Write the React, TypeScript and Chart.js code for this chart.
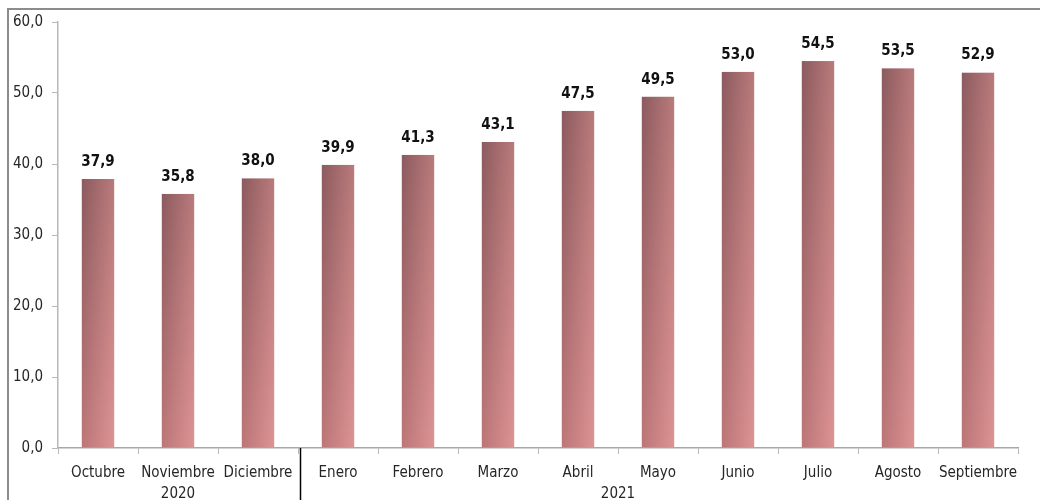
import React, { useEffect, useRef } from "react";
import { Chart, registerables } from "chart.js";

Chart.register(...registerables);

const months = [
  "Octubre", "Noviembre", "Diciembre", "Enero", "Febrero", "Marzo",
  "Abril", "Mayo", "Junio", "Julio", "Agosto", "Septiembre",
];
const values = [37.9, 35.8, 38.0, 39.9, 41.3, 43.1, 47.5, 49.5, 53.0, 54.5, 53.5, 52.9];
const yearLabels = ["2020", "2021"];
const yearLabelPos = [1, 6.5]; // category positions for the year labels
const yearSeparatorPos = [2.5];
const yTicks = { min: 0, max: 60, step: 10 };

const FONT = "'DejaVu Sans Condensed', 'Liberation Sans', sans-serif";
const fmt = (v: number) => v.toFixed(1).replace(".", ",");

const BAR_PCT = 0.41;

function barPattern(chart: any, index: number, value: number) {
  const xs = chart.scales.x;
  const ys = chart.scales.y;
  if (!xs || !ys || !chart.chartArea) return "#b87072";
  const catW = (xs.right - xs.left) / months.length;
  const w = Math.max(2, Math.round(catW * BAR_PCT));
  const cx = xs.getPixelForValue(index);
  const top = ys.getPixelForValue(value);
  const bottom = ys.getPixelForValue(0);
  const h = Math.max(2, Math.round(bottom - top));
  const left = cx - w / 2;

  const base = document.createElement("canvas");
  base.width = w;
  base.height = h;
  const b = base.getContext("2d")!;
  const gBottom = b.createLinearGradient(0, 0, w, 0);
  gBottom.addColorStop(0, "#bc7678");
  gBottom.addColorStop(1, "#de9494");
  b.fillStyle = gBottom;
  b.fillRect(0, 0, w, h);

  const topC = document.createElement("canvas");
  topC.width = w;
  topC.height = h;
  const t = topC.getContext("2d")!;
  const gTop = t.createLinearGradient(0, 0, w, 0);
  gTop.addColorStop(0, "#8a5a5e");
  gTop.addColorStop(1, "#ba7a7b");
  t.fillStyle = gTop;
  t.fillRect(0, 0, w, h);
  t.globalCompositeOperation = "destination-in";
  const mask = t.createLinearGradient(0, 0, 0, h);
  mask.addColorStop(0, "rgba(0,0,0,1)");
  mask.addColorStop(1, "rgba(0,0,0,0)");
  t.fillStyle = mask;
  t.fillRect(0, 0, w, h);

  b.drawImage(topC, 0, 0);

  const pat = chart.ctx.createPattern(base, "no-repeat")!;
  pat.setTransform(new DOMMatrix().translate(left, top));
  return pat;
}

const labelsPlugin = {
  id: "valueLabels",
  afterDatasetsDraw(chart: any) {
    const ctx = chart.ctx;
    const meta = chart.getDatasetMeta(0);
    ctx.save();
    ctx.font = `bold 15px ${FONT}`;
    ctx.fillStyle = "#111111";
    ctx.textAlign = "center";
    ctx.textBaseline = "alphabetic";
    meta.data.forEach((el: any, i: number) => {
      ctx.fillText(fmt(values[i]), el.x, el.y - 13);
    });
    ctx.restore();
  },
  afterDraw(chart: any) {
    const ctx = chart.ctx;
    const xs = chart.scales.x;
    ctx.save();
    ctx.strokeStyle = "#000000";
    ctx.lineWidth = 1.5;
    yearSeparatorPos.forEach((p) => {
      const x = Math.round(xs.getPixelForValue(p)) + 2.5;
      ctx.beginPath();
      ctx.moveTo(x, xs.top);
      ctx.lineTo(x, chart.height);
      ctx.stroke();
    });
    ctx.font = `15px ${FONT}`;
    ctx.fillStyle = "#262626";
    ctx.textAlign = "center";
    ctx.textBaseline = "top";
    yearLabels.forEach((lab, i) => {
      ctx.fillText(lab, xs.getPixelForValue(yearLabelPos[i]), xs.top + 39);
    });
    ctx.restore();
  },
};

export default function App() {
  const ref = useRef<HTMLCanvasElement | null>(null);
  useEffect(() => {
    document.body.style.margin = "0";
    const chart = new Chart(ref.current!, {
      type: "bar",
      data: {
        labels: months,
        datasets: [
          {
            data: values,
            backgroundColor: (c: any) => barPattern(c.chart, c.dataIndex, c.raw as number),
            borderWidth: 0,
            categoryPercentage: 1,
            barPercentage: BAR_PCT,
          },
        ],
      },
      options: {
        responsive: false,
        animation: false,
        layout: { padding: { left: 0, top: 22, right: 22, bottom: 0 } },
        plugins: { legend: { display: false }, tooltip: { enabled: false } },
        scales: {
          x: {
            grid: {
              offset: true,
              drawOnChartArea: false,
              drawTicks: true,
              tickLength: 6,
              color: "#b8b8b8",
            },
            border: { color: "#a8a8a8", width: 1.5 },
            ticks: {
              color: "#262626",
              font: { family: FONT, size: 15 },
              padding: 10,
              maxRotation: 0,
              autoSkip: false,
            },
            afterFit: (s: any) => {
              s.height = 52;
            },
          },
          y: {
            min: yTicks.min,
            max: yTicks.max,
            grid: {
              drawOnChartArea: false,
              drawTicks: true,
              tickLength: 6,
              color: "#b8b8b8",
            },
            border: { color: "#b8b8b8", width: 1.5 },
            ticks: {
              stepSize: yTicks.step,
              color: "#262626",
              font: { family: FONT, size: 15 },
              padding: 9,
              callback: (v: any) => fmt(Number(v)),
            },
            afterFit: (s: any) => {
              s.width = 58;
            },
          },
        },
      },
      plugins: [labelsPlugin],
    });
    return () => chart.destroy();
  }, []);
  return (
    <div style={{ position: "fixed", left: 0, top: 0, width: 1040, height: 500, overflow: "hidden", background: "#fff" }}>
      <div
        style={{
          position: "absolute",
          left: 7,
          top: 8,
          width: 1200,
          height: 700,
          border: "2px solid #8c8c8c",
          boxSizing: "border-box",
        }}
      />
      <canvas ref={ref} width={1040} height={500} style={{ position: "absolute", left: 0, top: 0 }} />
    </div>
  );
}
